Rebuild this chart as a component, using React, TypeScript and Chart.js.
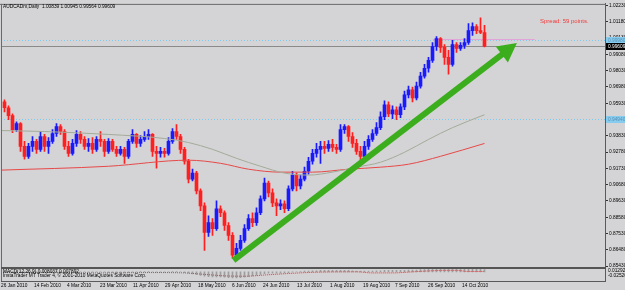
import React, { useEffect, useRef } from 'react';
import { Chart, registerables } from 'chart.js';

Chart.register(...registerables);

// ---------- data (AUDCADm, Daily; one slot ≈ two sessions) ----------
const firstOpen = 0.9602;
const closes = [
  0.9564, 0.9513, 0.9423, 0.9462, 0.9315, 0.9251, 0.9315, 0.9347, 0.9296, 0.9379,
  0.9315, 0.9347, 0.9398, 0.9443, 0.9411, 0.9315, 0.9270, 0.9334, 0.9392, 0.9360,
  0.9315, 0.9334, 0.9296, 0.9360, 0.9347, 0.9283, 0.9347, 0.9296, 0.9270, 0.9296,
  0.9251, 0.9347, 0.9392, 0.9334, 0.9360, 0.9379, 0.9392, 0.9283, 0.9270, 0.9283,
  0.9270, 0.9347, 0.9411, 0.9379, 0.9296, 0.9219, 0.9104, 0.9143, 0.9028, 0.8932,
  0.8760, 0.8824, 0.8785, 0.8913, 0.8887, 0.8805, 0.8741, 0.8613, 0.8658, 0.8709,
  0.8785, 0.8849, 0.8824, 0.8887, 0.8977, 0.9079, 0.9015, 0.8951, 0.8932, 0.8945,
  0.8913, 0.9041, 0.9130, 0.9060, 0.9104, 0.9155, 0.9219, 0.9270, 0.9296, 0.9315,
  0.9302, 0.9328, 0.9309, 0.9296, 0.9423, 0.9443, 0.9379, 0.9334, 0.9283, 0.9251,
  0.9315, 0.9360, 0.9398, 0.9436, 0.9506, 0.9583, 0.9525, 0.9551, 0.9519, 0.9570,
  0.9647, 0.9679, 0.9628, 0.9704, 0.9768, 0.9819, 0.9870, 0.9959, 1.0010, 0.9953,
  0.9889, 0.9844, 0.9972, 0.9947, 0.9966, 0.9985, 1.0061, 1.0087, 1.0061, 1.0049,
  0.99609,
];
const highs = [
  0.9615, 0.9577, 0.9525, 0.9474, 0.9468, 0.9347, 0.9334, 0.9379, 0.9360, 0.9411,
  0.9392, 0.9372, 0.9423, 0.9462, 0.9455, 0.9423, 0.9347, 0.9360, 0.9417, 0.9411,
  0.9379, 0.9366, 0.9372, 0.9379, 0.9411, 0.9360, 0.9366, 0.9360, 0.9315, 0.9315,
  0.9309, 0.9360, 0.9423, 0.9398, 0.9385, 0.9411, 0.9423, 0.9398, 0.9315, 0.9309,
  0.9302, 0.9372, 0.9430, 0.9455, 0.9392, 0.9309, 0.9232, 0.9168, 0.9155, 0.9041,
  0.8951, 0.8868, 0.8849, 0.8964, 0.8932, 0.8900, 0.8824, 0.8760, 0.8690, 0.8741,
  0.8811, 0.8875, 0.8887, 0.8919, 0.8996, 0.9111, 0.9092, 0.9041, 0.8977, 0.8970,
  0.8964, 0.9060, 0.9155, 0.9143, 0.9130, 0.9181, 0.9245, 0.9296, 0.9334, 0.9347,
  0.9347, 0.9353, 0.9360, 0.9328, 0.9455, 0.9455, 0.9449, 0.9404, 0.9360, 0.9315,
  0.9347, 0.9385, 0.9423, 0.9468, 0.9538, 0.9608, 0.9602, 0.9577, 0.9570, 0.9589,
  0.9672, 0.9704, 0.9698, 0.9730, 0.9793, 0.9844, 0.9889, 0.9985, 1.0023, 1.0016,
  0.9972, 0.9934, 0.9998, 0.9985, 0.9985, 1.0010, 1.0106, 1.0112, 1.0100, 1.0144,
  1.0095,
];
const lows = [
  0.9538, 0.9487, 0.9404, 0.9411, 0.9283, 0.9232, 0.9238, 0.9283, 0.9270, 0.9283,
  0.9283, 0.9270, 0.9334, 0.9379, 0.9392, 0.9296, 0.9251, 0.9258, 0.9315, 0.9334,
  0.9296, 0.9283, 0.9270, 0.9283, 0.9315, 0.9251, 0.9270, 0.9283, 0.9251, 0.9258,
  0.9206, 0.9238, 0.9334, 0.9309, 0.9315, 0.9347, 0.9360, 0.9251, 0.9175, 0.9245,
  0.9245, 0.9258, 0.9334, 0.9360, 0.9270, 0.9200, 0.9079, 0.9092, 0.9009, 0.8900,
  0.8645, 0.8734, 0.8741, 0.8773, 0.8862, 0.8773, 0.8709, 0.8594, 0.8607, 0.8645,
  0.8696, 0.8773, 0.8798, 0.8805, 0.8875, 0.8964, 0.8990, 0.8926, 0.8868, 0.8907,
  0.8887, 0.8900, 0.9028, 0.9028, 0.9041, 0.9092, 0.9136, 0.9200, 0.9245, 0.9206,
  0.9270, 0.9283, 0.9283, 0.9270, 0.9283, 0.9398, 0.9347, 0.9309, 0.9264, 0.9219,
  0.9232, 0.9296, 0.9347, 0.9385, 0.9423, 0.9487, 0.9506, 0.9494, 0.9487, 0.9500,
  0.9551, 0.9628, 0.9602, 0.9615, 0.9691, 0.9755, 0.9793, 0.9857, 0.9934, 0.9921,
  0.9844, 0.9781, 0.9832, 0.9921, 0.9934, 0.9947, 0.9972, 1.0030, 1.0042, 1.0042,
  0.9956,
];

// moving averages (read at a few bar positions)
const grayMaBars = [-0.875, 10, 26, 40, 46, 52, 58, 64, 70, 76, 82, 88, 94, 100, 106, 112, 120];
const grayMaVals = [0.9417, 0.9411, 0.9392, 0.9366, 0.9340, 0.9296, 0.9238, 0.9187, 0.9143, 0.9130, 0.9149, 0.9181, 0.9213, 0.9277, 0.9360, 0.9436, 0.9519];
const redMaBars = [-0.875, 26, 46, 54, 61, 69, 77, 86, 94, 101, 109, 120];
const redMaVals = [0.9162, 0.9187, 0.9226, 0.9206, 0.9168, 0.9149, 0.9149, 0.9168, 0.9181, 0.9200, 0.9251, 0.9334];

// MACD(12,26,9) sub-window
const macdHist = [
  0.002, 0.001, 0.001, 0.000, -0.001, -0.002, -0.003, -0.003, -0.002, -0.001,
  0.000, 0.000, 0.001, 0.002, 0.001, 0.000, -0.001, -0.001, 0.000, 0.000,
  0.000, -0.001, -0.001, 0.000, 0.000, -0.001, -0.002, -0.002, -0.003, -0.003,
  -0.003, -0.002, -0.001, 0.000, 0.001, 0.001, 0.001, 0.000, -0.001, -0.001,
  -0.001, 0.000, 0.001, 0.001, 0.000, -0.002, -0.004, -0.006, -0.008, -0.010,
  -0.012, -0.013, -0.014, -0.014, -0.014, -0.015, -0.016, -0.017, -0.017, -0.016,
  -0.015, -0.013, -0.011, -0.009, -0.007, -0.005, -0.004, -0.004, -0.004, -0.004,
  -0.003, -0.002, -0.001, 0.000, 0.001, 0.002, 0.002, 0.003, 0.003, 0.004,
  0.004, 0.004, 0.004, 0.004, 0.004, 0.004, 0.004, 0.003, 0.002, 0.002,
  0.002, 0.002, 0.002, 0.003, 0.003, 0.004, 0.004, 0.004, 0.004, 0.004,
  0.004, 0.005, 0.005, 0.005, 0.006, 0.006, 0.007, 0.007, 0.008, 0.008,
  0.007, 0.007, 0.007, 0.007, 0.007, 0.007, 0.007, 0.008, 0.008, 0.007,
  0.006,
];
const macdSignalBars = [-0.875, 12, 25, 37, 45, 50, 55, 60, 66, 72, 78, 88, 92, 97, 102, 107, 110, 113, 116, 120];
const macdSignalVals = [-0.002, -0.002, -0.003, -0.002, -0.003, -0.007, -0.011, -0.012, -0.008, -0.004, -0.001, 0.000, -0.003, -0.003, 0.000, 0.003, 0.004, 0.004, 0.001, 0.001];
const macdMax = 0.01292;
const macdMin = -0.0252;

// axes
const priceTicks = [0.8543, 0.8648, 0.8753, 0.8858, 0.8963, 0.9068, 0.9173, 0.9278, 0.9383, 0.9488, 0.9593, 0.9698, 0.9803, 0.9908, 1.0013, 1.0118, 1.0223];
const priceMin = 0.85366;
const priceMax = 1.02337;
const dateLabels = ['26 Jan 2010', '14 Feb 2010', '4 Mar 2010', '23 Mar 2010', '11 Apr 2010', '29 Apr 2010', '18 May 2010', '6 Jun 2010', '24 Jun 2010', '13 Jul 2010', '1 Aug 2010', '19 Aug 2010', '7 Sep 2010', '26 Sep 2010', '14 Oct 2010'];
const dateTickBars = [-0.875, 7.375, 15.625, 23.875, 32.125, 40.125, 48.375, 56.875, 64.625, 73.125, 81.375, 89.625, 97.625, 105.875, 114.375];
const barMin = -0.875;
const barMax = 150.125;

// chart objects
const hLines = [0.9998, 0.9494];
const bidPrice = 0.99609;
const askLine = { from: 107.1, to: 132.6, price: 1.0006 };
const arrowFrom = [57.25, 0.8581];
const arrowTo = [128.1, 0.9982];
const headerText = 'AUDCADm,Daily  1.00839 1.00945 0.99564 0.99609';
const spreadText = 'Spread: 59 points.';
const macdTitle = 'MACD(12,26,9) 0.008037 0.007892';
const copyrightText = 'InstaTrader MT Trader 4, © 2001-2010 MetaQuotes Software Corp.';

const BG = '#d4d4d6';
const BULL = '#1a1aff';
const BEAR = '#ff1f1f';
const GREEN = '#3cae1e';
const FAM = '"Liberation Sans", Arial, sans-serif';

export default function App() {
  const canvasRef = useRef<HTMLCanvasElement | null>(null);

  useEffect(() => {
    document.body.style.margin = '0';
    const canvas = canvasRef.current;
    if (!canvas) return;

    const opens = closes.map((c, i) => (i === 0 ? firstOpen : closes[i - 1]));
    const colors = closes.map((c, i) => (c >= opens[i] ? BULL : BEAR));

    const overlay = {
      id: 'mt4Overlay',
      beforeDraw(chart: any) {
        const ctx = chart.ctx;
        ctx.save();
        ctx.fillStyle = BG;
        ctx.fillRect(0, 0, chart.width, chart.height);
        ctx.restore();
      },
      beforeDatasetsDraw(chart: any) {
        const ctx = chart.ctx;
        const a = chart.chartArea;
        const xs = chart.scales.x;
        const ys = chart.scales.y;
        ctx.save();
        ctx.beginPath();
        ctx.rect(a.left, ys.top, a.right - a.left, ys.bottom - ys.top);
        ctx.clip();
        ctx.lineWidth = 1;
        ctx.strokeStyle = '#7cccf2';
        ctx.setLineDash([1, 2]);
        hLines.forEach((p) => {
          const py = Math.round(ys.getPixelForValue(p)) + 0.5;
          ctx.beginPath();
          ctx.moveTo(a.left, py);
          ctx.lineTo(a.right, py);
          ctx.stroke();
        });
        ctx.setLineDash([]);
        ctx.strokeStyle = '#8a8a8a';
        const by = Math.round(ys.getPixelForValue(bidPrice)) + 0.5;
        ctx.beginPath();
        ctx.moveTo(a.left, by);
        ctx.lineTo(a.right, by);
        ctx.stroke();
        ctx.strokeStyle = '#e2a4d8';
        const ay = Math.round(ys.getPixelForValue(askLine.price)) + 0.5;
        ctx.beginPath();
        ctx.moveTo(xs.getPixelForValue(askLine.from), ay);
        ctx.lineTo(xs.getPixelForValue(askLine.to), ay);
        ctx.stroke();
        ctx.restore();
      },
      afterDatasetsDraw(chart: any) {
        const ctx = chart.ctx;
        const xs = chart.scales.x;
        const ys = chart.scales.y;
        const x0 = xs.getPixelForValue(arrowFrom[0]);
        const y0 = ys.getPixelForValue(arrowFrom[1]);
        const x1 = xs.getPixelForValue(arrowTo[0]);
        const y1 = ys.getPixelForValue(arrowTo[1]);
        const dx = x1 - x0;
        const dy = y1 - y0;
        const len = Math.hypot(dx, dy);
        const ux = dx / len;
        const uy = dy / len;
        const headLen = 19;
        const headHalf = 10;
        const bx = x1 - ux * headLen;
        const by = y1 - uy * headLen;
        ctx.save();
        ctx.strokeStyle = GREEN;
        ctx.fillStyle = GREEN;
        ctx.lineWidth = 6;
        ctx.lineCap = 'butt';
        ctx.beginPath();
        ctx.moveTo(x0, y0);
        ctx.lineTo(bx + ux * 2, by + uy * 2);
        ctx.stroke();
        ctx.beginPath();
        ctx.moveTo(x1, y1);
        ctx.lineTo(bx - uy * headHalf, by + ux * headHalf);
        ctx.lineTo(bx + uy * headHalf, by - ux * headHalf);
        ctx.closePath();
        ctx.fill();
        ctx.restore();
      },
      afterDraw(chart: any) {
        const ctx = chart.ctx;
        const a = chart.chartArea;
        const ys = chart.scales.y;
        const ym = chart.scales.yM;
        ctx.save();
        // frame
        ctx.fillStyle = '#6a6a6a';
        ctx.fillRect(0, a.top, a.right + 1, 1);
        ctx.fillRect(a.left, a.top, 1, a.bottom - a.top);
        ctx.fillStyle = '#555555';
        ctx.fillRect(a.left, Math.round(ys.bottom), a.right - a.left + 1, 2);
        // header & texts
        ctx.textBaseline = 'middle';
        ctx.textAlign = 'left';
        ctx.fillStyle = '#000000';
        ctx.font = `4.8px ${FAM}`;
        ctx.fillText(headerText, 3, 6.5);
        ctx.fillText(macdTitle, 3, ym.top + 5);
        ctx.fillText(copyrightText, 3, ym.top + 9);
        ctx.fillStyle = '#f23a3a';
        ctx.font = `6px ${FAM}`;
        ctx.fillText(spreadText, 540, 21.5);
        // MACD scale labels
        ctx.fillStyle = '#000000';
        ctx.font = `4.8px ${FAM}`;
        ctx.fillText(macdMax.toFixed(5), a.right + 3, ym.top + 4);
        ctx.fillText(macdMin.toFixed(5), a.right + 3, ym.top + 9);
        // price boxes on the axis
        ctx.font = `4.8px ${FAM}`;
        hLines.forEach((p) => {
          const py = Math.round(ys.getPixelForValue(p));
          ctx.fillStyle = '#86ccef';
          ctx.fillRect(a.right + 1, py - 3, 20, 7);
          ctx.fillStyle = '#5b8fb3';
          ctx.fillText(p.toFixed(5), a.right + 3, py + 0.5);
        });
        const bpy = Math.round(ys.getPixelForValue(bidPrice));
        ctx.fillStyle = '#000000';
        ctx.fillRect(a.right + 1, bpy - 3, 20, 7);
        ctx.fillStyle = '#ffffff';
        ctx.fillText(bidPrice.toFixed(5), a.right + 3, bpy + 0.5);
        ctx.restore();
      },
    };

    const chart = new Chart(canvas, {
      type: 'bar',
      data: {
        datasets: [
          {
            type: 'line',
            data: grayMaBars.map((b, k) => ({ x: b, y: grayMaVals[k] })),
            borderColor: '#a3ab99',
            borderWidth: 1,
            pointRadius: 0,
            cubicInterpolationMode: 'monotone',
            yAxisID: 'y',
            order: 0,
          },
          {
            type: 'line',
            data: redMaBars.map((b, k) => ({ x: b, y: redMaVals[k] })),
            borderColor: '#e84848',
            borderWidth: 1,
            pointRadius: 0,
            cubicInterpolationMode: 'monotone',
            yAxisID: 'y',
            order: 0,
          },
          {
            type: 'bar',
            data: closes.map((c, i) => ({ x: i, y: [opens[i], c] })),
            backgroundColor: colors,
            barThickness: 3,
            minBarLength: 1,
            grouped: false,
            yAxisID: 'y',
            order: 1,
          },
          {
            type: 'bar',
            data: closes.map((c, i) => ({ x: i, y: [lows[i], highs[i]] })),
            backgroundColor: colors,
            barThickness: 1,
            grouped: false,
            yAxisID: 'y',
            order: 2,
          },
          {
            type: 'bar',
            data: macdHist.map((v, i) => ({ x: i, y: v })),
            backgroundColor: '#9d9d9d',
            barThickness: 1,
            grouped: false,
            yAxisID: 'yM',
            order: 3,
          },
          {
            type: 'line',
            data: macdSignalBars.map((b, k) => ({ x: b, y: macdSignalVals[k] })),
            borderColor: '#ff3030',
            borderWidth: 1,
            borderDash: [1, 1],
            pointRadius: 0,
            cubicInterpolationMode: 'monotone',
            yAxisID: 'yM',
            order: 0,
          },
        ] as any,
      },
      options: {
        animation: false,
        responsive: false,
        devicePixelRatio: 1,
        events: [],
        layout: { padding: { left: 1, top: 1, right: 0, bottom: 0 } },
        plugins: { legend: { display: false }, tooltip: { enabled: false } },
        scales: {
          x: {
            type: 'linear',
            min: barMin,
            max: barMax,
            offset: false,
            grid: { display: true, drawOnChartArea: false, drawTicks: true, tickLength: 2, color: '#555555' },
            border: { display: true, color: '#5a5a5a' },
            ticks: {
              font: { size: 4.8, family: FAM },
              color: '#000000',
              align: 'start',
              maxRotation: 0,
              autoSkip: false,
              padding: 0,
              callback: (v: any) => {
                const k = dateTickBars.indexOf(Number(v));
                return k >= 0 ? dateLabels[k] : '';
              },
            },
            afterBuildTicks: (s: any) => {
              s.ticks = dateTickBars.map((v) => ({ value: v }));
            },
            afterFit: (s: any) => {
              s.height = 9;
            },
          },
          y: {
            type: 'linear',
            position: 'right',
            stack: 'panes',
            stackWeight: 266,
            min: priceMin,
            max: priceMax,
            grid: { display: true, drawOnChartArea: false, tickLength: 3, color: '#333333' },
            border: { display: true, color: '#5a5a5a' },
            ticks: {
              font: { size: 4.8, family: FAM },
              color: '#000000',
              padding: 1,
              autoSkip: false,
              callback: (v: any) => Number(v).toFixed(5),
            },
            afterBuildTicks: (s: any) => {
              s.ticks = priceTicks.map((v) => ({ value: v }));
            },
            afterFit: (s: any) => {
              s.width = 20;
            },
          },
          yM: {
            type: 'linear',
            position: 'right',
            stack: 'panes',
            stackWeight: 14,
            min: macdMin,
            max: macdMax,
            grid: { display: false },
            border: { display: true, color: '#5a5a5a' },
            ticks: { display: false },
            afterFit: (s: any) => {
              s.width = 20;
            },
          },
        },
      } as any,
      plugins: [overlay],
    });

    return () => chart.destroy();
  }, []);

  return (
    <canvas
      ref={canvasRef}
      width={625}
      height={290}
      style={{ display: 'block', width: 625, height: 290 }}
    />
  );
}
